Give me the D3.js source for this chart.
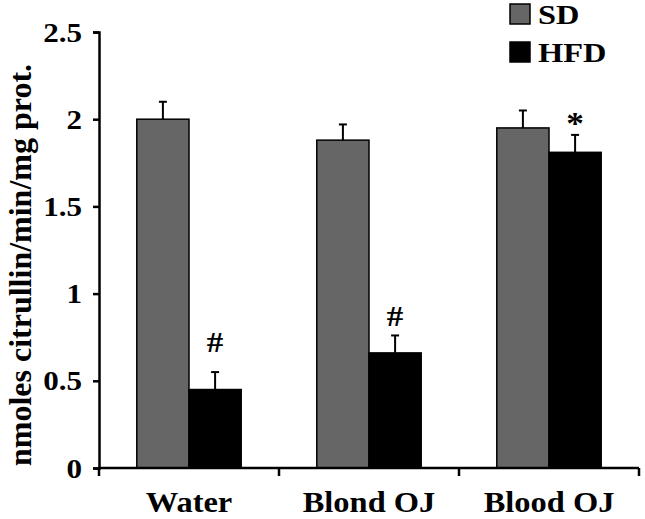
<!DOCTYPE html>
<html><head><meta charset="utf-8">
<script src="https://cdn.jsdelivr.net/npm/d3@7"></script>
<style>body{margin:0;background:#fff}svg{display:block}text{font-family:"Liberation Serif","Times New Roman",serif;font-weight:bold;fill:#000}</style>
</head><body>
<script>
const categories = ["Water", "Blond OJ", "Blood OJ"];
const seriesNames = ["SD", "HFD"];
const sdValues = [2.00, 1.88, 1.95];
const sdErrors = [0.10, 0.09, 0.10];
const hfdValues = [0.45, 0.66, 1.81];
const hfdErrors = [0.10, 0.10, 0.10];
const hfdMarks = ["#", "#", "*"];
const yTicks = [0, 0.5, 1, 1.5, 2, 2.5];
const yLabel = "nmoles citrullin/min/mg prot.";
const colors = {SD: "#666666", HFD: "#000000"};

const W = 645, H = 519;
const m = {left: 99, right: 6, top: 32, bottom: 51};
const svg = d3.select("body").append("svg").attr("width", W).attr("height", H);

const x = d3.scaleBand().domain(categories).range([m.left, W - m.right]);
const y = d3.scaleLinear().domain([0, 2.5]).range([H - m.bottom, m.top]);
const groupW = x.bandwidth() * 0.58;
const xs = d3.scaleBand().domain(seriesNames).range([0, groupW]);

const data = [];
categories.forEach((c, i) => {
  data.push({cat: c, s: "SD", v: sdValues[i], e: sdErrors[i], mark: "", i});
  data.push({cat: c, s: "HFD", v: hfdValues[i], e: hfdErrors[i], mark: hfdMarks[i], i});
});
const bx = d => x(d.cat) + (x.bandwidth() - groupW) / 2 + xs(d.s);

// error bars
const eb = svg.append("g").attr("stroke", "#000").attr("stroke-width", 2);
data.forEach(d => {
  const cx = bx(d) + xs.bandwidth() / 2;
  eb.append("line").attr("x1", cx).attr("x2", cx).attr("y1", y(d.v)).attr("y2", y(d.v + d.e));
  eb.append("line").attr("x1", cx - 4).attr("x2", cx + 4).attr("y1", y(d.v + d.e)).attr("y2", y(d.v + d.e));
});

svg.append("g").selectAll("rect").data(data).join("rect")
  .attr("x", d => bx(d)).attr("width", xs.bandwidth())
  .attr("y", d => y(d.v)).attr("height", d => y(0) - y(d.v))
  .attr("fill", d => colors[d.s]).attr("stroke", "#000").attr("stroke-width", 1.5);

// significance marks (gap above error cap, in px)
const markGap = [20, 9, 1];
svg.append("g").selectAll("text").data(data.filter(d => d.mark)).join("text")
  .attr("transform", d => `translate(${bx(d) + xs.bandwidth() / 2},${y(d.v + d.e) - markGap[d.i]}) scale(1.1,1)`)
  .attr("text-anchor", "middle").attr("font-size", d => d.mark === "*" ? 32 : 30)
  .text(d => d.mark);

// y axis
const ya = svg.append("g").attr("transform", `translate(${m.left},0)`)
  .call(d3.axisLeft(y).tickValues(yTicks).tickFormat(d3.format("")).tickSize(6).tickPadding(0));
ya.select(".domain").attr("stroke-width", 2.5);
ya.selectAll(".tick line").attr("stroke-width", 2.5);
ya.selectAll(".tick text").attr("x", null).attr("dy", null)
  .attr("transform", "translate(-17,9) scale(1.15,1)")
  .attr("font-size", 27);

// x axis with ticks at band boundaries
const xa = svg.append("g").attr("transform", `translate(0,${y(0)})`);
xa.append("line").attr("x1", m.left).attr("x2", W - m.right).attr("stroke", "#000").attr("stroke-width", 2.5);
const bounds = categories.map(c => x(c)).concat([x(categories[categories.length - 1]) + x.bandwidth()]);
xa.selectAll(".bt").data(bounds).join("line").attr("class", "bt")
  .attr("x1", d => d).attr("x2", d => d).attr("y1", 0).attr("y2", 8)
  .attr("stroke", "#000").attr("stroke-width", 2.5);
xa.selectAll(".cl").data(categories).join("text").attr("class", "cl")
  .attr("transform", d => `translate(${x(d) + x.bandwidth() / 2},44) scale(1.12,1)`)
  .attr("text-anchor", "middle").attr("font-size", 29).text(d => d);

// y label
svg.append("text").attr("transform", `translate(31,265) rotate(-90)`)
  .attr("text-anchor", "middle").attr("font-size", 32).text(yLabel);

// legend
const lg = svg.append("g").attr("transform", "translate(510,4)");
seriesNames.forEach((s, i) => {
  lg.append("rect").attr("x", 0).attr("y", i * 38).attr("width", 20).attr("height", 20)
    .attr("fill", colors[s]).attr("stroke", "#000").attr("stroke-width", 1.5);
  lg.append("text").attr("transform", `translate(28,${i * 38 + 20}) scale(1.2,1)`)
    .attr("font-size", 27).text(s);
});
</script>
</body></html>
